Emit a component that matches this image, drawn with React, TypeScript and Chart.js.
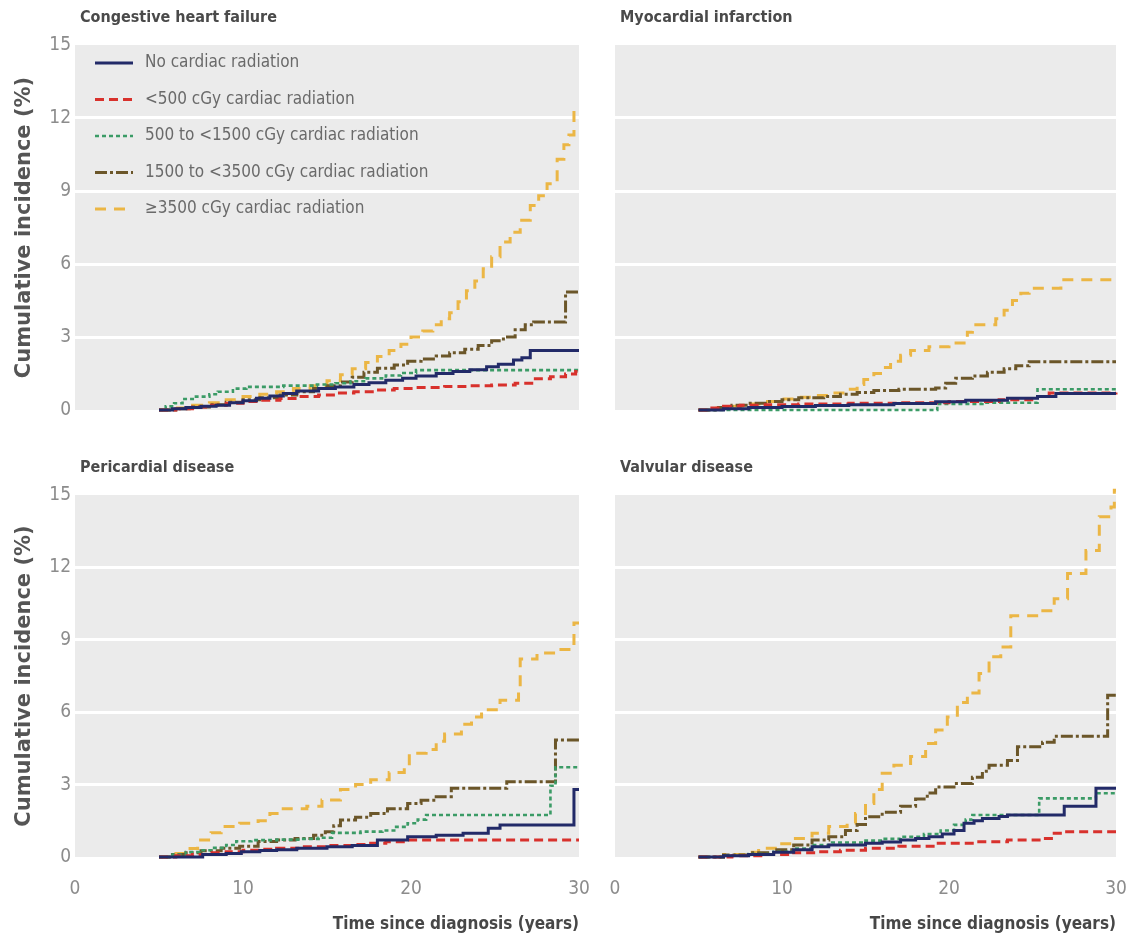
import React, { useEffect, useRef } from "react";
import { Chart, registerables } from "chart.js";

Chart.register(...registerables);

type Pt = [number, number];

// ---- Series labels and styles ----
const seriesLabels = [
  "No cardiac radiation",
  "<500 cGy cardiac radiation",
  "500 to <1500 cGy cardiac radiation",
  "1500 to <3500 cGy cardiac radiation",
  "\u22653500 cGy cardiac radiation",
];
const seriesColors = ["#222a68", "#d8312c", "#3b9b66", "#6b5629", "#ebb645"];
const seriesDashes: number[][] = [[], [9, 5], [4, 3], [12, 3, 3, 3], [11, 8]];
const seriesWidths = [3, 3, 2.6, 3, 3];

// ---- Axis ticks ----
const yTicks = [0, 3, 6, 9, 12, 15];
const xTicks = [0, 10, 20, 30];

// ---- Congestive heart failure (time in years, cumulative incidence %) ----
const chfNone: Pt[] = [[5, 0], [5.8, 0.05], [6.6, 0.1], [7.5, 0.15], [8.4, 0.2], [9.2, 0.3], [10, 0.38], [10.8, 0.48], [11.6, 0.58], [12.4, 0.68], [13.2, 0.78], [14.5, 0.88], [15.5, 0.95], [16.6, 1.05], [17.5, 1.12], [18.5, 1.22], [19.5, 1.3], [20.3, 1.4], [21.5, 1.5], [22.5, 1.58], [23.5, 1.65], [24.5, 1.78], [25.2, 1.88], [26.1, 2.05], [26.6, 2.15], [27.1, 2.45], [30, 2.45]];
const chf500: Pt[] = [[5, 0], [6, 0.05], [7, 0.12], [8, 0.2], [9, 0.28], [10, 0.35], [11, 0.4], [12.2, 0.47], [13.3, 0.55], [14.5, 0.62], [15.5, 0.7], [16.6, 0.75], [17.8, 0.82], [19, 0.88], [20.3, 0.92], [22, 0.97], [23.5, 1.0], [24.8, 1.03], [26.2, 1.1], [27.3, 1.28], [28.3, 1.37], [29.2, 1.48], [29.8, 1.58], [30, 1.58]];
const chf1500: Pt[] = [[5, 0], [5.4, 0.15], [5.9, 0.28], [6.4, 0.45], [7.2, 0.55], [8.0, 0.65], [8.5, 0.75], [9.4, 0.88], [10.2, 0.95], [12.4, 1.0], [14.4, 1.05], [15.5, 1.1], [16.4, 1.18], [17.3, 1.3], [18.5, 1.42], [19.4, 1.52], [20.3, 1.64], [30, 1.64]];
const chf3500: Pt[] = [[5, 0], [6, 0.05], [7, 0.12], [8, 0.22], [9, 0.32], [10, 0.42], [11, 0.5], [12.2, 0.62], [13.2, 0.75], [14.2, 0.88], [15, 1.0], [15.8, 1.15], [16.5, 1.35], [17.2, 1.55], [18, 1.72], [19, 1.85], [19.8, 2.0], [20.6, 2.1], [21.5, 2.22], [22.3, 2.35], [23.2, 2.5], [24, 2.65], [24.8, 2.85], [25.5, 3.0], [26.2, 3.3], [26.8, 3.5], [27.3, 3.62], [29.2, 4.85], [30, 4.85]];
const chfHigh: Pt[] = [[5, 0], [6, 0.08], [7, 0.2], [8, 0.3], [9, 0.42], [10, 0.55], [11, 0.65], [12, 0.75], [13, 0.88], [14, 1.0], [15, 1.2], [15.8, 1.45], [16.5, 1.7], [17.3, 1.95], [18, 2.2], [18.7, 2.45], [19.4, 2.7], [20, 3.0], [20.7, 3.25], [21.3, 3.5], [21.8, 3.75], [22.3, 4.0], [22.8, 4.45], [23.3, 4.9], [23.8, 5.3], [24.3, 5.8], [24.8, 6.3], [25.3, 6.9], [25.9, 7.3], [26.5, 7.8], [27.1, 8.4], [27.6, 8.8], [28.1, 9.3], [28.7, 10.3], [29.1, 10.9], [29.4, 11.3], [29.7, 12.3], [30, 12.3]];

// ---- Myocardial infarction ----
const miNone: Pt[] = [[5, 0], [6.5, 0.05], [8, 0.1], [10, 0.14], [12, 0.18], [14, 0.22], [16.7, 0.27], [19.2, 0.34], [21, 0.4], [23.5, 0.48], [25.3, 0.55], [26.4, 0.68], [30, 0.68]];
const mi500: Pt[] = [[5, 0], [5.8, 0.08], [6.5, 0.15], [7.5, 0.2], [9, 0.22], [11, 0.25], [14, 0.28], [17, 0.3], [20, 0.35], [23, 0.42], [25.3, 0.55], [26, 0.7], [30, 0.72]];
const mi1500: Pt[] = [[5, 0], [19, 0], [19.3, 0.25], [22, 0.3], [25.3, 0.85], [30, 0.85]];
const mi3500: Pt[] = [[5, 0], [6, 0.1], [7, 0.2], [8, 0.28], [9, 0.35], [10, 0.42], [11, 0.5], [12.5, 0.55], [13.5, 0.65], [14.5, 0.72], [15.5, 0.8], [17, 0.85], [19.2, 0.9], [19.8, 1.1], [20.4, 1.3], [21.4, 1.4], [22.3, 1.55], [23.3, 1.7], [24, 1.82], [24.8, 1.98], [30, 1.98]];
const miHigh: Pt[] = [[5, 0], [6, 0.08], [7, 0.15], [8, 0.25], [9, 0.35], [10, 0.45], [11, 0.52], [12, 0.6], [13, 0.7], [13.8, 0.85], [14.5, 1.05], [14.9, 1.25], [15.5, 1.5], [16, 1.75], [16.5, 2.0], [17.1, 2.25], [17.7, 2.45], [18.8, 2.6], [20, 2.75], [21.1, 3.2], [21.4, 3.5], [22.8, 3.75], [23.3, 4.1], [23.8, 4.5], [24.3, 4.8], [24.8, 5.0], [26.7, 5.35], [30, 5.35]];

// ---- Pericardial disease ----
const pcNone: Pt[] = [[5, 0], [7.6, 0.1], [9, 0.15], [9.9, 0.22], [11, 0.27], [12, 0.3], [13.2, 0.36], [15, 0.42], [16.5, 0.48], [18, 0.7], [19.8, 0.84], [21.5, 0.9], [23.1, 0.98], [24.6, 1.19], [25.3, 1.33], [29.7, 2.8], [30, 2.8]];
const pc500: Pt[] = [[5, 0], [6, 0.05], [7, 0.1], [8, 0.18], [9, 0.22], [10, 0.28], [11, 0.32], [12, 0.36], [13.5, 0.42], [15, 0.48], [16.5, 0.52], [17.6, 0.57], [18.5, 0.63], [19.8, 0.7], [30, 0.7]];
const pc1500: Pt[] = [[5, 0], [5.8, 0.1], [6.6, 0.2], [7.4, 0.28], [8.2, 0.38], [9, 0.5], [9.6, 0.65], [10.5, 0.7], [12, 0.72], [13.5, 0.75], [14.5, 0.8], [15.3, 1.0], [17, 1.05], [18.3, 1.1], [19, 1.25], [19.8, 1.4], [20.4, 1.55], [20.9, 1.74], [28.3, 2.95], [28.6, 3.72], [30, 3.72]];
const pc3500: Pt[] = [[5, 0], [5.8, 0.1], [6.6, 0.18], [7.5, 0.26], [8.7, 0.36], [9.8, 0.45], [10.9, 0.64], [12, 0.7], [13.1, 0.77], [14.2, 0.9], [14.9, 1.05], [15.4, 1.3], [15.8, 1.53], [16.7, 1.65], [17.6, 1.8], [18.6, 2.0], [19.8, 2.22], [20.6, 2.35], [21.5, 2.5], [22.4, 2.85], [25.7, 3.12], [28.6, 4.85], [30, 4.85]];
const pcHigh: Pt[] = [[5, 0], [5.8, 0.15], [6.5, 0.35], [7.3, 0.7], [8.1, 1.0], [8.7, 1.26], [9.8, 1.4], [10.9, 1.5], [11.6, 1.8], [12.3, 2.0], [13.8, 2.1], [14.7, 2.36], [15.8, 2.8], [16.7, 3.0], [17.6, 3.2], [18.7, 3.5], [19.6, 3.7], [19.9, 4.3], [20.9, 4.45], [21.5, 4.8], [22, 5.1], [23, 5.5], [23.6, 5.8], [24.2, 6.1], [25.3, 6.5], [26.4, 7.0], [26.5, 8.2], [27.5, 8.45], [28.6, 8.6], [29.5, 8.85], [29.7, 9.7], [30, 9.7]];

// ---- Valvular disease ----
const vdNone: Pt[] = [[5, 0], [6.5, 0.05], [8, 0.1], [9.5, 0.2], [10.7, 0.3], [11.8, 0.42], [12.8, 0.5], [15, 0.57], [16, 0.62], [17.1, 0.7], [18, 0.77], [18.8, 0.84], [19.6, 0.95], [20.3, 1.1], [20.9, 1.4], [21.5, 1.5], [22, 1.6], [23, 1.68], [23.5, 1.74], [26.9, 2.1], [28.8, 2.85], [30, 2.85]];
const vd500: Pt[] = [[5, 0], [7, 0.05], [9, 0.1], [10.7, 0.18], [12, 0.22], [13.5, 0.28], [15, 0.36], [17, 0.45], [19.2, 0.57], [21.5, 0.63], [23.5, 0.7], [25.6, 0.77], [26.3, 0.98], [26.9, 1.05], [30, 1.05]];
const vd1500: Pt[] = [[5, 0], [6.5, 0.05], [8, 0.12], [9.5, 0.22], [10.7, 0.35], [11.8, 0.5], [13, 0.6], [15, 0.68], [16, 0.75], [17.1, 0.84], [18.5, 0.95], [19.5, 1.1], [20.3, 1.33], [21, 1.55], [21.4, 1.74], [25.4, 2.43], [28.8, 2.64], [30, 2.64]];
const vd3500: Pt[] = [[5, 0], [6.5, 0.08], [8, 0.18], [9.5, 0.3], [10.7, 0.5], [11.8, 0.7], [12.8, 0.84], [13.8, 1.1], [14.5, 1.35], [15, 1.67], [16, 1.85], [17.1, 2.1], [18, 2.4], [18.7, 2.65], [19.2, 2.9], [20.3, 3.05], [21.4, 3.3], [22, 3.55], [22.4, 3.8], [23.5, 4.0], [24.1, 4.57], [25.6, 4.75], [26.3, 5.0], [29.5, 6.7], [30, 6.7]];
const vdHigh: Pt[] = [[5, 0], [6.5, 0.1], [8, 0.2], [8.6, 0.36], [9.8, 0.55], [10.7, 0.77], [11.8, 0.98], [12.8, 1.26], [13.9, 1.4], [14.4, 1.8], [15, 2.22], [15.5, 2.8], [16, 3.47], [16.7, 3.8], [17.7, 4.16], [18.6, 4.7], [19.2, 5.26], [19.9, 5.8], [20.5, 6.4], [21.1, 6.8], [21.8, 7.6], [22.4, 8.3], [23.1, 8.7], [23.7, 10.0], [25.4, 10.2], [26.3, 10.7], [27.1, 11.75], [28.2, 12.7], [29, 14.1], [29.7, 14.5], [29.9, 15.2], [30, 15.2]];

// ---- Fonts ----
const NARROW = "'DejaVu Sans Condensed', 'Liberation Sans Narrow', sans-serif";
const WIDE = "'DejaVu Sans', 'Open Sans', sans-serif";

type PanelDef = {
  title: string;
  series: Pt[][];
  left: number;
  top: number;
  width: number;
  height: number;
  showY: boolean;
  showX: boolean;
  legend: boolean;
};

const panels: PanelDef[] = [
  { title: "Congestive heart failure", series: [chfNone, chf500, chf1500, chf3500, chfHigh], left: 0, top: 0, width: 590, height: 440, showY: true, showX: false, legend: true },
  { title: "Myocardial infarction", series: [miNone, mi500, mi1500, mi3500, miHigh], left: 590, top: 0, width: 547, height: 440, showY: false, showX: false, legend: false },
  { title: "Pericardial disease", series: [pcNone, pc500, pc1500, pc3500, pcHigh], left: 0, top: 440, width: 590, height: 500, showY: true, showX: true, legend: false },
  { title: "Valvular disease", series: [vdNone, vd500, vd1500, vd3500, vdHigh], left: 590, top: 440, width: 547, height: 500, showY: false, showX: true, legend: false },
];

function Panel({ def }: { def: PanelDef }) {
  const ref = useRef<HTMLCanvasElement | null>(null);

  useEffect(() => {
    const canvas = ref.current;
    if (!canvas) return;

    // gray plotting panel behind the grid
    const panelBackground = {
      id: "panelBackground",
      beforeDraw(chart: any) {
        const { ctx, chartArea: a } = chart;
        ctx.save();
        ctx.fillStyle = "#ebebeb";
        ctx.fillRect(a.left, a.top, a.right - a.left, a.bottom - a.top);
        ctx.restore();
      },
    };

    // panel heading and (for the first panel) the series key
    const panelText = {
      id: "panelText",
      afterDraw(chart: any) {
        const { ctx, chartArea: a } = chart;
        ctx.save();
        ctx.fillStyle = "#4a4a4a";
        ctx.font = `bold 16px ${NARROW}`;
        ctx.textBaseline = "middle";
        ctx.textAlign = "left";
        ctx.fillText(def.title, a.left + 5, a.top - 27);
        if (def.legend) {
          seriesLabels.forEach((label, i) => {
            const y = a.top + 18 + i * 36.5;
            ctx.save();
            ctx.strokeStyle = seriesColors[i];
            ctx.lineWidth = seriesWidths[i];
            ctx.setLineDash(seriesDashes[i]);
            ctx.beginPath();
            ctx.moveTo(a.left + 20, y);
            ctx.lineTo(a.left + 58, y);
            ctx.stroke();
            ctx.restore();
            ctx.fillStyle = "#6a6a6a";
            ctx.font = `17px ${NARROW}`;
            ctx.fillText(label, a.left + 70, y);
          });
        }
        ctx.restore();
      },
    };

    const isLeft = def.showY;
    const isBottom = def.showX;

    const chart = new Chart(canvas, {
      type: "line",
      data: {
        datasets: def.series.map((pts, i) => ({
          label: seriesLabels[i],
          data: pts.map(([x, y]) => ({ x, y })),
          borderColor: seriesColors[i],
          backgroundColor: seriesColors[i],
          borderWidth: seriesWidths[i],
          borderDash: seriesDashes[i],
          stepped: "before" as const,
          pointRadius: 0,
          fill: false,
          clip: false as any,
        })),
      },
      options: {
        animation: false,
        responsive: false,
        events: [],
        layout: {
          padding: {
            left: isLeft ? 0 : 25,
            right: isLeft ? 11 : 21,
            top: isBottom ? 55 : 45,
            bottom: isBottom ? 0 : 30,
          },
        },
        plugins: {
          legend: { display: false },
          tooltip: { enabled: false },
          title: { display: false },
        },
        scales: {
          x: {
            type: "linear",
            min: 0,
            max: 30,
            display: isBottom,
            grid: { display: false },
            border: { display: false },
            afterBuildTicks: (s: any) => {
              s.ticks = xTicks.map((v) => ({ value: v }));
            },
            ticks: {
              color: "#8c8c8c",
              font: { family: NARROW, size: 19 },
              padding: 13,
              maxRotation: 0,
            },
            title: {
              display: true,
              text: "Time since diagnosis (years)",
              align: "end",
              color: "#474747",
              font: { family: NARROW, size: 17, weight: "bold" },
              padding: { top: 0, bottom: 5 },
            },
            afterFit: (s: any) => {
              if (isBottom) {
                s.height = 83;
                s.paddingLeft = 0;
                s.paddingRight = 0;
              }
            },
          },
          y: {
            type: "linear",
            min: 0,
            max: 15,
            afterBuildTicks: (s: any) => {
              s.ticks = yTicks.map((v) => ({ value: v }));
            },
            grid: {
              drawTicks: false,
              lineWidth: 3,
              color: (c: any) =>
                c.tick && (c.tick.value === 0 || c.tick.value === 15) ? "rgba(0,0,0,0)" : "#ffffff",
            },
            border: { display: false },
            ticks: {
              display: isLeft,
              color: "#8c8c8c",
              font: { family: NARROW, size: 19 },
              padding: 4,
            },
            title: {
              display: isLeft,
              text: "Cumulative incidence (%)",
              color: "#555555",
              font: { family: WIDE, size: 21, weight: "bold" },
              padding: { top: 12, bottom: 0 },
            },
            afterFit: (s: any) => {
              s.width = isLeft ? 75 : 0;
              s.paddingTop = 0;
              s.paddingBottom = 0;
            },
          },
        },
      },
      plugins: [panelBackground, panelText],
    } as any);

    return () => chart.destroy();
  }, [def]);

  return (
    <canvas
      ref={ref}
      width={def.width}
      height={def.height}
      style={{ position: "absolute", left: def.left, top: def.top, width: def.width, height: def.height }}
    />
  );
}

export default function App() {
  return (
    <div style={{ position: "absolute", left: 0, top: 0, width: 1137, height: 940, background: "#ffffff" }}>
      {panels.map((p) => (
        <Panel key={p.title} def={p} />
      ))}
    </div>
  );
}
